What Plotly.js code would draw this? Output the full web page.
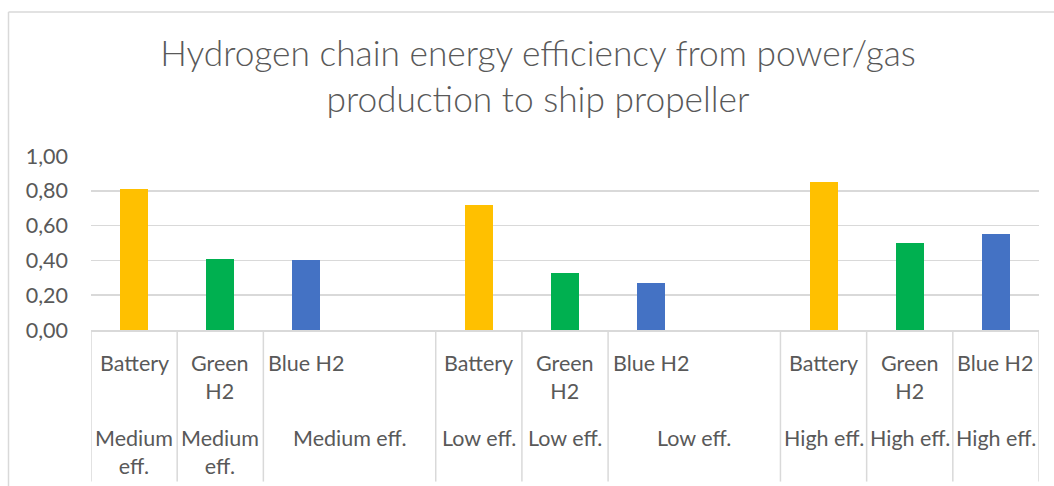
<!DOCTYPE html>
<html>
<head>
<meta charset="utf-8">
<script src="https://cdn.plot.ly/plotly-3.0.1.min.js"></script>
<style>
  html, body { margin: 0; padding: 0; background: #ffffff; }
  #chart { width: 1054px; height: 486px; }
</style>
</head>
<body>
<div id="chart"></div>
<script>
// ---- Data ----
const technologies = ["Battery", "Green H2", "Blue H2"];
const techTickLabels = ["Battery", "Green<br>H2", "Blue H2"];
const efficiencyCases = ["Medium eff.", "Low eff.", "High eff."];
const caseLabelsNarrow = ["Medium<br>eff.", "Low eff.", "High eff."];
const caseLabelsWide = ["Medium eff.", "Low eff.", "High eff."];
const batteryValues = [0.81, 0.72, 0.85];
const greenH2Values = [0.41, 0.33, 0.50];
const blueH2Values  = [0.40, 0.27, 0.55];
const techColors = ["#FFC000", "#00B050", "#4472C4"];
const yTicks = [0, 0.2, 0.4, 0.6, 0.8, 1.0];

const seriesValues = [batteryValues, greenH2Values, blueH2Values];

// ---- Layout constants ----
const W = 1054, H = 486;
const mL = 91, mR = 15, mT = 155.5, mB = 156;
const plotH = H - mT - mB;
const plotW = W - mL - mR;
const slotsPerGroup = 4;
const nSlots = slotsPerGroup * efficiencyCases.length - 1; // 11
const xMin = -0.5, xMax = nSlots - 0.5;
const textColor = "#595959";
const lineColor = "#D9D9D9";
const fontFamily = "Lato, 'Open Sans', sans-serif";
const labelSize = 21.5;

function px2paperY(py) { return (H - mB - py) / plotH; }
function px2paperX(px) { return (px - mL) / plotW; }

// ---- Traces: one per technology ----
const traces = technologies.map((tech, j) => ({
  type: "bar",
  name: tech,
  x: efficiencyCases.map((c, i) => i * slotsPerGroup + j),
  y: seriesValues[j],
  width: 0.325,
  marker: { color: techColors[j], line: { width: 0 } },
  hovertemplate: tech + " – %{customdata}: %{y:.2f}<extra></extra>",
  customdata: efficiencyCases,
  showlegend: false
}));

// ---- Category axis: labels and separators ----
const annotations = [];
const shapes = [];
const sepBottom = px2paperY(482);
const separators = new Set();

efficiencyCases.forEach((c, i) => {
  technologies.forEach((t, j) => {
    const slot = i * slotsPerGroup + j;
    // first level label, centred on the slot
    annotations.push({
      xref: "x", yref: "paper", x: slot, y: 0,
      yanchor: "top", xanchor: "center", yshift: -18,
      text: techTickLabels[j], showarrow: false, align: "center",
      font: { family: fontFamily, size: labelSize, color: textColor }
    });
    // second level cell (last technology of a group also spans the empty gap slot)
    const left = slot - 0.5;
    let right = slot + 0.5;
    if (j === technologies.length - 1) right = Math.min((i + 1) * slotsPerGroup - 0.5, xMax);
    const wide = (right - left) > 1.5;
    annotations.push({
      xref: "x", yref: "paper", x: (left + right) / 2, y: 0,
      yanchor: "top", xanchor: "center", yshift: -93,
      text: wide ? caseLabelsWide[i] : caseLabelsNarrow[i], showarrow: false, align: "center",
      font: { family: fontFamily, size: labelSize, color: textColor }
    });
    separators.add(left);
    separators.add(right);
  });
});

separators.forEach(xv => {
  shapes.push({
    type: "line", xref: "x", yref: "paper",
    x0: xv, x1: xv, y0: 0, y1: sepBottom,
    line: { color: lineColor, width: 1.5 }
  });
});

// chart frame (left and top edges)
const frameX = px2paperX(8.5), frameTop = px2paperY(11), frameRight = px2paperX(W + 5), frameBottom = px2paperY(H + 5);
shapes.push({ type: "line", xref: "paper", yref: "paper", x0: frameX, x1: frameRight, y0: frameTop, y1: frameTop, line: { color: lineColor, width: 1.5 } });
shapes.push({ type: "line", xref: "paper", yref: "paper", x0: frameX, x1: frameX, y0: frameTop, y1: frameBottom, line: { color: lineColor, width: 1.5 } });

const layout = {
  width: W, height: H,
  margin: { l: mL, r: mR, t: mT, b: mB, pad: 0 },
  paper_bgcolor: "#ffffff",
  plot_bgcolor: "#ffffff",
  separators: ", ",
  title: {
    text: "Hydrogen chain energy efficiency from power/gas<br>production to ship propeller",
    font: { family: fontFamily, size: 35.3, color: textColor, weight: 300 },
    x: 538 / W, xanchor: "center", xref: "container",
    y: 1 - 66 / H, yanchor: "top", yref: "container"
  },
  xaxis: {
    range: [xMin, xMax], showticklabels: false, showgrid: false, zeroline: false,
    showline: true, linecolor: lineColor, linewidth: 1.5, fixedrange: true
  },
  yaxis: {
    range: [0, 1.0], tickvals: yTicks, tickformat: ".2f",
    showgrid: true, gridcolor: lineColor, gridwidth: 1.5, zeroline: false, showline: false,
    ticks: "", ticklabelstandoff: 22,
    tickfont: { family: fontFamily, size: labelSize, color: textColor }, fixedrange: true
  },
  bargap: 0,
  annotations: annotations,
  shapes: shapes,
  showlegend: false
};

Plotly.newPlot("chart", traces, layout, { displayModeBar: false, staticPlot: true });
</script>
</body>
</html>
